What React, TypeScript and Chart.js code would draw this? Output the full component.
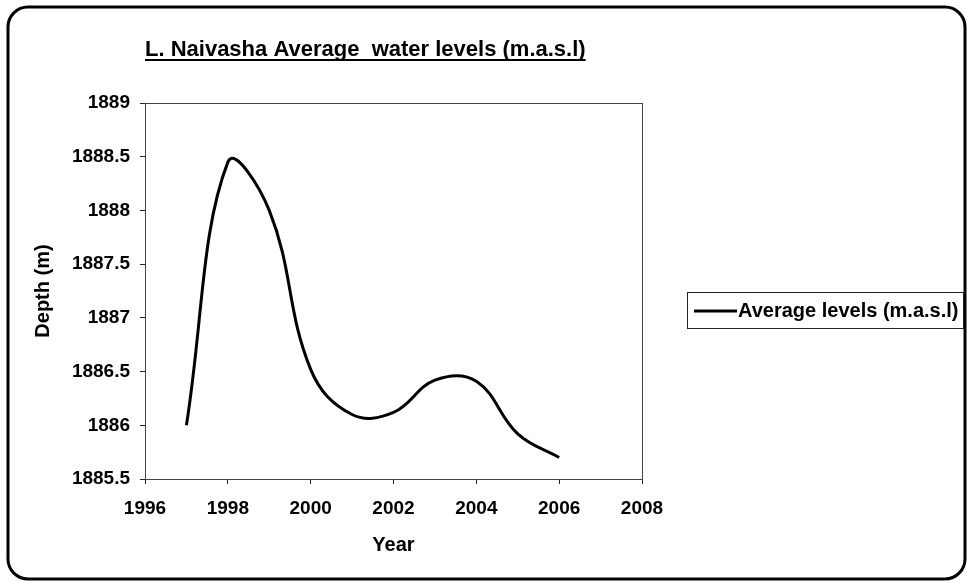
import React, { useEffect, useRef } from 'react';
import { Chart, registerables } from 'chart.js';
Chart.register(...registerables);

const years = [1997, 1998, 1999, 2000, 2001, 2002, 2003, 2004, 2005, 2006];
const levels = [1886.0, 1888.45, 1888.0, 1886.52, 1886.1, 1886.12, 1886.42, 1886.41, 1885.92, 1885.7];
const xTickValues = [1996, 1998, 2000, 2002, 2004, 2006, 2008];
const yTickValues = [1885.5, 1886, 1886.5, 1887, 1887.5, 1888, 1888.5, 1889];
const chartTitle = 'L. Naivasha Average  water levels (m.a.s.l)';
const seriesLabel = 'Average levels (m.a.s.l)';
const xAxisTitle = 'Year';
const yAxisTitle = 'Depth (m)';

const FONT = '"Liberation Sans", Arial, Helvetica, sans-serif';

export default function App() {
  const ref = useRef<HTMLCanvasElement>(null);

  useEffect(() => {
    document.body.style.margin = '0';
    const canvas = ref.current!;

    const decor = {
      id: 'decor',
      beforeDraw(chart: any) {
        const { ctx, width, height } = chart;
        ctx.save();
        ctx.fillStyle = '#ffffff';
        ctx.fillRect(0, 0, width, height);
        ctx.restore();
      },
      afterDraw(chart: any) {
        const { ctx, chartArea: a } = chart;
        ctx.save();
        // plot frame
        ctx.strokeStyle = '#444444';
        ctx.lineWidth = 1;
        ctx.strokeRect(a.left + 0.5, a.top + 0.5, a.right - a.left, a.bottom - a.top);
        // outer rounded border
        ctx.lineWidth = 3;
        ctx.strokeStyle = '#000000';
        ctx.beginPath();
        ctx.roundRect(8, 7, 957, 572, 20);
        ctx.stroke();
        // title (underlined)
        ctx.fillStyle = '#000000';
        ctx.font = `bold 22px ${FONT}`;
        ctx.textAlign = 'left';
        ctx.textBaseline = 'alphabetic';
        ctx.fillText(chartTitle, a.left, 56);
        const tw = ctx.measureText(chartTitle).width;
        ctx.fillRect(a.left, 59, tw, 2);
        // legend
        const ds = chart.data.datasets[0];
        const lx = 687, ly = 292, lw = 276, lh = 36;
        ctx.lineWidth = 1;
        ctx.strokeStyle = '#222222';
        ctx.strokeRect(lx + 0.5, ly + 0.5, lw, lh);
        const cy = ly + lh / 2 + 1;
        ctx.strokeStyle = ds.borderColor;
        ctx.lineWidth = 3;
        ctx.beginPath();
        ctx.moveTo(lx + 7, cy);
        ctx.lineTo(lx + 50, cy);
        ctx.stroke();
        ctx.font = `bold 20px ${FONT}`;
        ctx.textBaseline = 'middle';
        ctx.fillText(ds.label, lx + 51, cy);
        ctx.restore();
      },
    };

    const chart = new Chart(canvas, {
      type: 'line',
      data: {
        datasets: [
          {
            label: seriesLabel,
            data: years.map((y, i) => ({ x: y, y: levels[i] })),
            borderColor: '#000000',
            borderWidth: 3,
            pointRadius: 0,
            tension: 0.4,
            fill: false,
          },
        ],
      },
      options: {
        responsive: false,
        animation: false,
        devicePixelRatio: 1,
        layout: { padding: { top: 103, right: 325, left: 0, bottom: 0 } },
        plugins: {
          legend: { display: false },
          title: { display: false },
          tooltip: { enabled: false },
        },
        scales: {
          x: {
            type: 'linear',
            min: 1996,
            max: 2008,
            afterFit: (s: any) => { s.height = 102; },
            afterBuildTicks: (s: any) => { s.ticks = xTickValues.map((v) => ({ value: v })); },
            ticks: {
              color: '#000',
              padding: 13,
              font: { family: FONT, size: 19, weight: 'bold' },
              callback: (v: any) => String(v),
              maxRotation: 0,
            },
            grid: { display: true, drawOnChartArea: false, drawTicks: true, tickLength: 5, color: '#222' },
            border: { display: true, color: '#222', width: 1 },
            title: {
              display: true,
              text: xAxisTitle,
              color: '#000',
              font: { family: FONT, size: 20, weight: 'bold' },
              padding: { top: 0, bottom: 24 },
            },
          },
          y: {
            type: 'linear',
            min: 1885.5,
            max: 1889,
            afterFit: (s: any) => { s.width = 145; },
            afterBuildTicks: (s: any) => { s.ticks = yTickValues.map((v) => ({ value: v })); },
            ticks: {
              color: '#000',
              padding: 10,
              font: { family: FONT, size: 19, weight: 'bold' },
              callback: (v: any) => String(v),
            },
            grid: { display: true, drawOnChartArea: false, drawTicks: true, tickLength: 5, color: '#222' },
            border: { display: true, color: '#222', width: 1 },
            title: {
              display: true,
              text: yAxisTitle,
              color: '#000',
              font: { family: FONT, size: 20, weight: 'bold' },
              padding: { top: 31, bottom: 0 },
            },
          },
        },
      },
      plugins: [decor],
    });

    return () => chart.destroy();
  }, []);

  return <canvas ref={ref} width={967} height={581} style={{ display: 'block' }} />;
}
